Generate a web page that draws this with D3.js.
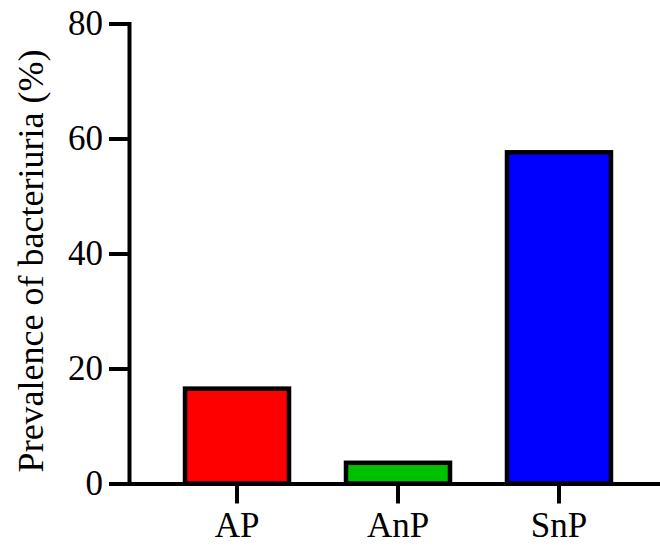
<html>
<head>
<script src="https://d3js.org/d3.v7.min.js"></script>
<style>
  body { margin: 0; background: #fff; }
  svg text { font-family: "Liberation Serif", "Times New Roman", Tinos, "DejaVu Serif", serif; }
</style>
</head>
<body>
<svg id="chart"></svg>
<script>
const categories = ["AP", "AnP", "SnP"];
const values = [16.5, 3.6, 57.6];
const colors = ["#ff0000", "#00c000", "#0000ff"];
const yTicks = [0, 20, 40, 60, 80];

const width = 660, height = 546;
const serif = '"Liberation Serif", "Times New Roman", Tinos, "DejaVu Serif", serif';
const svg = d3.select("#chart").attr("width", width).attr("height", height);

const y = d3.scaleLinear().domain([0, 80]).range([483.5, 23.5]);
const x = d3.scaleBand().domain(categories)
    .range([129, 667])
    .paddingInner(0.354)
    .paddingOuter(0.348);

// bars
svg.selectAll("rect.bar")
    .data(values)
    .join("rect")
    .attr("class", "bar")
    .attr("x", (d, i) => x(categories[i]))
    .attr("width", x.bandwidth())
    .attr("y", d => y(d))
    .attr("height", d => y(0) - y(d))
    .attr("fill", (d, i) => colors[i])
    .attr("stroke", "#000")
    .attr("stroke-width", 4.5);

// y axis
const yAxis = svg.append("g")
    .attr("transform", "translate(129,0)")
    .call(d3.axisLeft(y).tickValues(yTicks).tickSize(20).tickSizeOuter(0).tickPadding(6));

// x axis
const xAxis = svg.append("g")
    .attr("transform", `translate(0,${y(0)})`)
    .call(d3.axisBottom(x).tickSize(20).tickSizeOuter(0).tickPadding(9));

[yAxis, xAxis].forEach(g => {
    g.attr("font-family", serif).attr("font-size", 35);
    g.select(".domain").attr("stroke", "#000").attr("stroke-width", 4).attr("stroke-linecap", "square");
    g.selectAll(".tick line").attr("stroke", "#000").attr("stroke-width", 4);
    g.selectAll(".tick text").attr("fill", "#000");
});

svg.append("text")
    .attr("transform", "rotate(-90)")
    .attr("x", -261)
    .attr("y", 43)
    .attr("text-anchor", "middle")
    .attr("font-family", serif)
    .attr("font-size", 36)
    .text("Prevalence of bacteriuria (%)");
</script>
</body>
</html>
